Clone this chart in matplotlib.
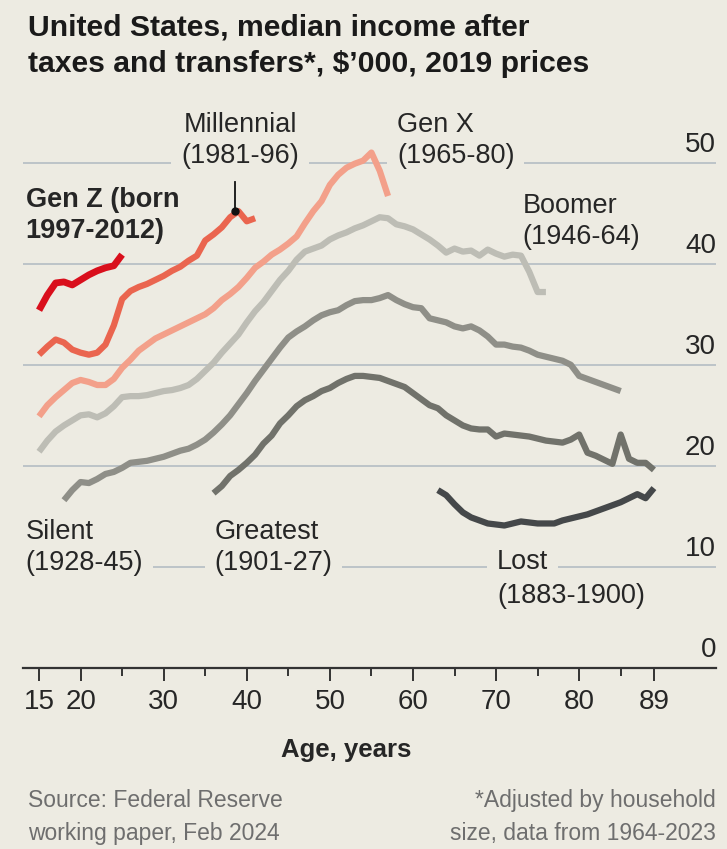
import matplotlib
matplotlib.use("Agg")
import matplotlib.pyplot as plt
import matplotlib.transforms as mtransforms

plt.rcParams["font.family"] = ["Liberation Sans", "DejaVu Sans"]

BG = "#EDEBE2"
GRID = "#B8C0C6"
TEXT = "#262626"

# median income after taxes and transfers, $'000 (2019 prices), by age
genz_age = list(range(15, 26))
genz_val = [35.4, 36.9, 38.1, 38.2, 37.9, 38.4, 38.9, 39.3, 39.6, 39.8, 40.9]

mill_age = list(range(15, 42))
mill_val = [31.0, 31.8, 32.5, 32.2, 31.5, 31.2, 31.0, 31.2, 32.0, 33.9,
            36.5, 37.3, 37.7, 38.0, 38.4, 38.8, 39.3, 39.7, 40.3, 40.8,
            42.3, 42.9, 43.6, 44.6, 45.2, 44.2, 44.5]

genx_age = list(range(15, 58))
genx_val = [24.9, 26.0, 26.8, 27.5, 28.2, 28.5, 28.3, 28.0, 28.0, 28.6,
            29.7, 30.5, 31.4, 32.0, 32.6, 33.0, 33.4, 33.8, 34.2, 34.6,
            35.0, 35.6, 36.4, 37.0, 37.7, 38.6, 39.6, 40.2, 40.9, 41.4,
            42.0, 42.7, 44.0, 45.2, 46.2, 47.8, 48.8, 49.5, 49.9, 50.2,
            51.0, 49.2, 46.7]

boom_age = list(range(15, 77))
boom_val = [21.4, 22.5, 23.4, 24.0, 24.5, 25.0, 25.1, 24.8, 25.2, 25.9,
            26.8, 26.9, 26.9, 27.0, 27.2, 27.4, 27.5, 27.7, 28.0, 28.6,
            29.4, 30.2, 31.2, 32.1, 33.0, 34.2, 35.3, 36.2, 37.3, 38.4,
            39.3, 40.4, 41.2, 41.5, 41.8, 42.4, 42.8, 43.1, 43.5, 43.8,
            44.2, 44.6, 44.5, 43.9, 43.7, 43.4, 42.9, 42.4, 41.8, 41.1,
            41.5, 41.2, 41.3, 40.8, 41.4, 41.0, 40.7, 40.9, 40.8, 39.2,
            37.2, 37.2]

silent_age = list(range(18, 86))
silent_val = [16.6, 17.6, 18.4, 18.3, 18.7, 19.2, 19.4, 19.8, 20.3, 20.4,
              20.5, 20.7, 20.9, 21.2, 21.5, 21.7, 22.1, 22.6, 23.3, 24.1,
              25.0, 26.1, 27.2, 28.4, 29.5, 30.6, 31.7, 32.7, 33.3, 33.8,
              34.4, 34.9, 35.2, 35.4, 35.9, 36.3, 36.4, 36.4, 36.6, 36.9,
              36.4, 36.0, 35.7, 35.6, 34.6, 34.4, 34.2, 33.8, 33.6, 33.8,
              33.4, 32.8, 32.0, 32.0, 31.8, 31.7, 31.4, 31.0, 30.8, 30.6,
              30.4, 30.0, 28.9, 28.6, 28.3, 28.0, 27.7, 27.4]

great_age = list(range(36, 90))
great_val = [17.3, 18.0, 19.0, 19.6, 20.3, 21.1, 22.2, 23.0, 24.2, 25.0,
             25.9, 26.5, 26.9, 27.4, 27.7, 28.2, 28.6, 28.9, 28.9, 28.8,
             28.7, 28.4, 28.1, 27.8, 27.2, 26.6, 26.0, 25.7, 25.0, 24.5,
             24.0, 23.7, 23.6, 23.6, 22.9, 23.2, 23.1, 23.0, 22.9, 22.7,
             22.5, 22.4, 22.3, 22.6, 23.1, 21.3, 21.0, 20.6, 20.2, 23.1,
             20.7, 20.3, 20.3, 19.6]

lost_age = list(range(63, 90))
lost_val = [17.6, 17.1, 16.2, 15.4, 14.9, 14.6, 14.3, 14.2, 14.1, 14.3,
            14.5, 14.4, 14.3, 14.3, 14.3, 14.6, 14.8, 15.0, 15.2, 15.5,
            15.8, 16.1, 16.4, 16.8, 17.2, 16.8, 17.8]

series = [
    (lost_age, lost_val, "#45484A", 4.5),
    (great_age, great_val, "#71726B", 4.5),
    (silent_age, silent_val, "#8F8F88", 4.5),
    (boom_age, boom_val, "#BDBDB5", 4.5),
    (genx_age, genx_val, "#F3A08A", 4.5),
    (mill_age, mill_val, "#EA654F", 4.5),
    (genz_age, genz_val, "#D90F1C", 4.9),
]

y_ticks = [0, 10, 20, 30, 40, 50]
x_major = [15, 20, 30, 40, 50, 60, 70, 80, 89]
x_minor = [25, 35, 45, 55, 65, 75, 85]

fig = plt.figure(figsize=(7.27, 8.49), dpi=100, facecolor=BG)
ax = fig.add_axes([23 / 727, 1 - 668 / 849, 693 / 727, 568 / 849])
ax.set_facecolor(BG)
ax.set_xlim(13.07, 96.47)
ax.set_ylim(0, 56.2)

for t in y_ticks[1:]:
    ax.axhline(t, color=GRID, lw=1.3, zorder=1)

for a, v, c, w in series:
    ax.plot(a, v, color=c, lw=w, solid_capstyle="butt",
            solid_joinstyle="round", zorder=3)

# y labels sit above the gridlines on the right
trans = mtransforms.blended_transform_factory(ax.transAxes, ax.transData)
for t in y_ticks:
    ax.text(1.0, t + 0.5, str(t), transform=trans, ha="right", va="bottom",
            fontsize=20, color=TEXT)

for s in ["left", "right", "top"]:
    ax.spines[s].set_visible(False)
ax.spines["bottom"].set_color("#333333")
ax.spines["bottom"].set_linewidth(1.6)
ax.set_yticks([])
ax.set_xticks(x_major)
ax.set_xticklabels([str(x) for x in x_major])
ax.set_xticks(x_minor, minor=True)
ax.tick_params(axis="x", which="major", length=9, width=1.4, color="#333333",
               labelsize=20, labelcolor=TEXT, pad=6)
ax.tick_params(axis="x", which="minor", length=6, width=1.4, color="#333333")

box = dict(facecolor=BG, edgecolor="none", pad=7)
lab = dict(fontsize=19.5, color=TEXT, linespacing=1.25, zorder=2.5)
ax.text(39.2, 52.2, "Millennial\n(1981-96)", ha="center", va="center",
        bbox=box, **lab)
ax.text(58.1, 52.2, "Gen X\n(1965-80)", ha="left", va="center", bbox=box, **lab)
ax.text(73.2, 44.2, "Boomer\n(1946-64)", ha="left", va="center", **lab)
ax.text(13.4, 11.9, "Silent\n(1928-45)", ha="left", va="center", bbox=box, **lab)
ax.text(36.1, 11.9, "Greatest\n(1901-27)", ha="left", va="center", bbox=box, **lab)
ax.text(70.1, 9.8, "Lost", ha="left", va="baseline", bbox=box, **lab)
ax.text(70.1, 6.4, "(1883-1900)", ha="left", va="baseline", **lab)
ax.text(13.4, 44.8, "Gen Z (born\n1997-2012)", ha="left", va="center",
        fontweight="bold", **lab)

# pointer to the millennial peak
ax.plot([38.6, 38.6], [48.1, 45.4], color="#111111", lw=1.3, zorder=4)
ax.plot([38.6], [45.2], marker="o", ms=5, color="#111111", zorder=4)

fig.text(28 / 727, 1 - 14 / 849,
         "United States, median income after\ntaxes and transfers*, $\u2019000, 2019 prices",
         ha="left", va="top", fontsize=21.7, fontweight="bold", color="#1A1A1A",
         linespacing=1.38)
fig.text(346 / 727, 1 - 750 / 849, "Age, years", ha="center", va="center",
         fontsize=18.5, fontweight="bold", color=TEXT)
fig.text(28 / 727, 1 - 789 / 849, "Source: Federal Reserve\nworking paper, Feb 2024",
         ha="left", va="top", fontsize=16.5, color="#6E6E6E", linespacing=1.55)
fig.text(716 / 727, 1 - 789 / 849, "*Adjusted by household\nsize, data from 1964-2023",
         ha="right", va="top", fontsize=16.5, color="#6E6E6E", linespacing=1.55)

fig.savefig("out.png", dpi=100, facecolor=BG)
